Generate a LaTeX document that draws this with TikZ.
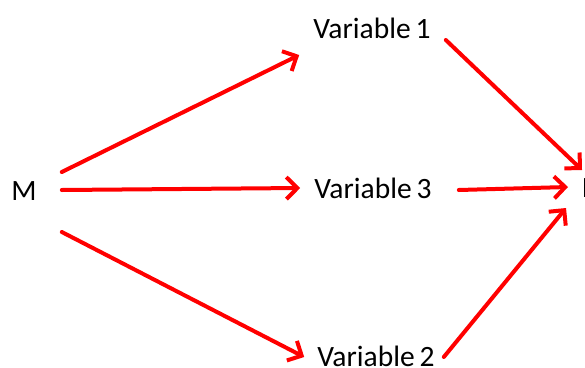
\documentclass[tikz,border=0pt]{standalone}
\usepackage{fontspec}
\setmainfont{Carlito}
\usepackage{tikz}
\usetikzlibrary{arrows.meta,calc}

\begin{document}
\begin{tikzpicture}[
  x=1pt, y=-1pt,
  var/.style={inner sep=0pt, font=\fontsize{29.5}{32}\selectfont, text=black},
  arr/.style={-{Straight Barb[length=11pt, width=22pt, line width=4pt]}, line width=4pt, red, line cap=round}
]
\useasboundingbox (0,0) rectangle (585,367);
\node[var, anchor=base]      (m)  at (24,200)  {M};
\node[var, anchor=base]      (v1) at (372,38)  {Variable\,1};
\node[var, anchor=base]      (v3) at (373,198) {Variable\,3};
\node[var, anchor=base]      (v2) at (376,366) {Variable\,2};
\node[var, anchor=base west] (d)  at (582,197) {D};
\draw[arr] ($(m.base east)+(25,-28)$) -- ($(v1.base west)+(-14,17)$);
\draw[arr] ($(m.base east)+(25,-10)$) -- ($(v3.base west)+(-14,-10)$);
\draw[arr] ($(m.base east)+(25,32)$)  -- ($(v2.base west)+(-13,-9)$);
\draw[arr] ($(v1.base east)+(15,2)$)  -- ($(d.base west)+(0,-27)$);
\draw[arr] ($(v3.base east)+(27,-8)$) -- ($(d.base west)+(-14,-10)$);
\draw[arr] ($(v2.base east)+(9,-9)$)  -- ($(d.base west)+(-16,11)$);
\end{tikzpicture}
\end{document}
